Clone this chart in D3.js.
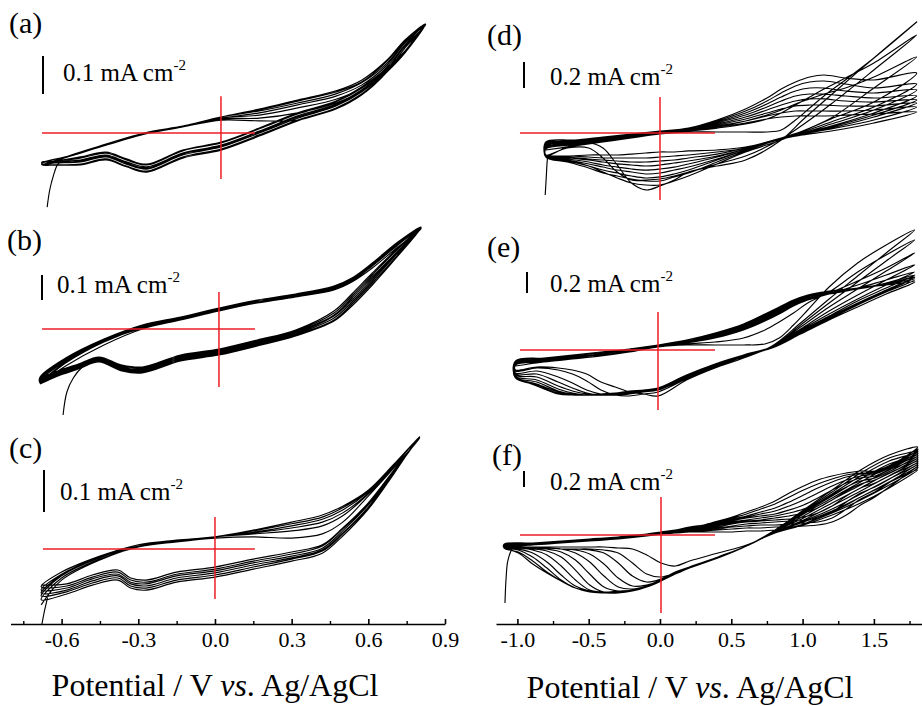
<!DOCTYPE html>
<html>
<head>
<meta charset="utf-8">
<script src="https://cdn.jsdelivr.net/npm/d3@7"></script>
<style>
  body { margin: 0; background: #fff; }
  svg { display: block; }
  text { font-family: "Liberation Serif", "Times New Roman", serif; fill: #000; }
</style>
</head>
<body>
<svg id="chart" width="922" height="706"></svg>
<script>
// ---------- Cyclic voltammograms: potential (V vs. Ag/AgCl), current density (mA cm^-2) ----------

const panelLabels = ["(a)", "(b)", "(c)", "(d)", "(e)", "(f)"];
const scaleBarValues = [0.1, 0.1, 0.1, 0.2, 0.2, 0.2];

const leftAxisTicks = [-0.6, -0.3, 0.0, 0.3, 0.6, 0.9];
const leftAxisMinor = [-0.75, -0.45, -0.15, 0.15, 0.45, 0.75];
const rightAxisTicks = [-1.0, -0.5, 0.0, 0.5, 1.0, 1.5];
const rightAxisMinor = [-0.75, -0.25, 0.25, 0.75, 1.25, 1.75];

// (a)
const aPotentialFwd = [-0.70, -0.60, -0.45, -0.30, -0.15, 0.00, 0.15, 0.30, 0.45, 0.55, 0.65, 0.72, 0.80];
const aCurrentFwd = [
  [-0.084,-0.063,-0.032,-0.003,0.016,0.034,0.032,0.034,0.066,0.100,0.161,0.224,0.284],
  [-0.082,-0.063,-0.032,-0.003,0.016,0.037,0.039,0.053,0.079,0.111,0.168,0.229,0.284],
  [-0.082,-0.061,-0.032,-0.003,0.016,0.039,0.047,0.066,0.089,0.118,0.174,0.232,0.287],
  [-0.079,-0.061,-0.029,0.000,0.018,0.039,0.053,0.074,0.097,0.126,0.179,0.237,0.287],
  [-0.079,-0.061,-0.029,0.000,0.018,0.042,0.058,0.079,0.103,0.132,0.184,0.239,0.287],
  [-0.079,-0.061,-0.029,0.000,0.018,0.042,0.061,0.084,0.108,0.134,0.189,0.242,0.287],
  [-0.079,-0.061,-0.029,0.000,0.018,0.042,0.063,0.087,0.111,0.139,0.192,0.245,0.287]
];
const aPotentialRev = [0.80, 0.72, 0.65, 0.55, 0.45, 0.30, 0.15, 0.00, -0.15, -0.29, -0.37, -0.45, -0.55, -0.65, -0.70];
const aCurrentRev = [
  [0.287,0.216,0.171,0.121,0.084,0.053,0.013,-0.024,-0.045,-0.082,-0.068,-0.050,-0.063,-0.074,-0.076],
  [0.287,0.216,0.171,0.118,0.082,0.050,0.011,-0.026,-0.047,-0.084,-0.071,-0.053,-0.066,-0.074,-0.079],
  [0.287,0.213,0.168,0.113,0.076,0.045,0.005,-0.032,-0.053,-0.089,-0.076,-0.058,-0.071,-0.076,-0.082],
  [0.287,0.213,0.166,0.111,0.074,0.042,0.003,-0.034,-0.055,-0.092,-0.079,-0.061,-0.074,-0.079,-0.082],
  [0.287,0.213,0.163,0.108,0.071,0.039,0.000,-0.037,-0.058,-0.095,-0.082,-0.063,-0.076,-0.079,-0.082],
  [0.287,0.211,0.161,0.103,0.066,0.034,-0.005,-0.042,-0.063,-0.100,-0.087,-0.068,-0.082,-0.084,-0.084],
  [0.287,0.211,0.161,0.100,0.063,0.032,-0.008,-0.045,-0.066,-0.103,-0.089,-0.071,-0.084,-0.084,-0.084]
];
const aStartPotential = [-0.68, -0.67, -0.655, -0.64, -0.62];
const aStartCurrent = [-0.195, -0.150, -0.111, -0.084, -0.071];
const aGuidePotential = [-0.700, 0.133];
const aGuideCurrent = [-0.121, 0.097];

// (b)
const bPotentialFwd = [-0.70, -0.60, -0.45, -0.30, -0.15, 0.00, 0.15, 0.30, 0.45, 0.52, 0.60, 0.70, 0.79];
const bCurrentFwd = [
  [-0.220,-0.148,-0.064,0.000,0.036,0.072,0.104,0.128,0.156,0.188,0.244,0.328,0.400],
  [-0.212,-0.136,-0.052,0.004,0.036,0.072,0.104,0.128,0.160,0.192,0.252,0.336,0.404],
  [-0.208,-0.132,-0.048,0.008,0.040,0.076,0.108,0.132,0.164,0.196,0.256,0.340,0.404],
  [-0.204,-0.128,-0.048,0.008,0.040,0.076,0.108,0.132,0.164,0.196,0.260,0.344,0.404],
  [-0.200,-0.124,-0.044,0.012,0.044,0.080,0.112,0.136,0.168,0.200,0.260,0.344,0.408],
  [-0.196,-0.120,-0.044,0.012,0.044,0.080,0.112,0.136,0.168,0.200,0.264,0.348,0.408],
  [-0.192,-0.116,-0.040,0.016,0.048,0.084,0.116,0.140,0.172,0.204,0.264,0.348,0.408]
];
const bPotentialRev = [0.79, 0.70, 0.60, 0.52, 0.45, 0.30, 0.15, 0.00, -0.15, -0.30, -0.38, -0.47, -0.55, -0.62, -0.70];
const bCurrentRev = [
  [0.404,0.324,0.224,0.140,0.072,-0.004,-0.044,-0.080,-0.104,-0.152,-0.144,-0.112,-0.140,-0.164,-0.200],
  [0.404,0.320,0.216,0.132,0.064,-0.008,-0.048,-0.084,-0.108,-0.156,-0.148,-0.116,-0.144,-0.168,-0.204],
  [0.404,0.312,0.208,0.124,0.056,-0.012,-0.052,-0.088,-0.112,-0.160,-0.152,-0.116,-0.144,-0.168,-0.204],
  [0.404,0.308,0.200,0.116,0.052,-0.016,-0.056,-0.092,-0.116,-0.164,-0.156,-0.120,-0.148,-0.172,-0.208],
  [0.404,0.304,0.192,0.108,0.044,-0.020,-0.060,-0.096,-0.120,-0.168,-0.160,-0.124,-0.152,-0.176,-0.212],
  [0.404,0.296,0.184,0.100,0.036,-0.024,-0.064,-0.100,-0.124,-0.172,-0.164,-0.128,-0.156,-0.180,-0.216],
  [0.404,0.292,0.176,0.092,0.032,-0.028,-0.068,-0.104,-0.128,-0.176,-0.168,-0.132,-0.160,-0.184,-0.220]
];
const bStartPotential = [-0.61, -0.595, -0.57, -0.535, -0.50, -0.47];
const bStartCurrent = [-0.344, -0.252, -0.196, -0.152, -0.128, -0.120];
const bGuidePotential = [-0.692, 0.141];
const bGuideCurrent = [-0.232, 0.148];

// (c)
const cPotentialFwd = [-0.68, -0.60, -0.45, -0.30, -0.15, 0.00, 0.15, 0.30, 0.42, 0.50, 0.60, 0.70, 0.80];
const cCurrentFwd = [
  [-0.133,-0.074,-0.026,0.005,0.017,0.026,0.029,0.026,0.036,0.064,0.126,0.193,0.264],
  [-0.121,-0.069,-0.024,0.005,0.019,0.029,0.036,0.043,0.055,0.079,0.131,0.195,0.264],
  [-0.112,-0.064,-0.021,0.007,0.019,0.029,0.038,0.050,0.064,0.086,0.133,0.198,0.267],
  [-0.105,-0.062,-0.019,0.007,0.019,0.029,0.040,0.055,0.071,0.093,0.136,0.200,0.267],
  [-0.098,-0.060,-0.019,0.007,0.019,0.029,0.043,0.060,0.076,0.098,0.138,0.200,0.267],
  [-0.090,-0.055,-0.017,0.010,0.021,0.029,0.045,0.064,0.081,0.102,0.140,0.202,0.267]
];
const cPotentialRev = [0.80, 0.70, 0.60, 0.50, 0.42, 0.30, 0.15, 0.00, -0.15, -0.27, -0.33, -0.38, -0.48, -0.58, -0.68];
const cCurrentRev = [
  [0.267,0.179,0.095,0.031,-0.010,-0.029,-0.048,-0.067,-0.079,-0.098,-0.093,-0.074,-0.086,-0.107,-0.121],
  [0.267,0.181,0.098,0.036,-0.005,-0.024,-0.043,-0.062,-0.074,-0.093,-0.088,-0.069,-0.081,-0.102,-0.112],
  [0.267,0.183,0.100,0.038,-0.002,-0.021,-0.038,-0.057,-0.069,-0.088,-0.083,-0.064,-0.076,-0.098,-0.105],
  [0.267,0.183,0.105,0.043,0.002,-0.017,-0.033,-0.052,-0.064,-0.083,-0.079,-0.060,-0.071,-0.093,-0.098],
  [0.267,0.186,0.107,0.048,0.007,-0.012,-0.029,-0.048,-0.060,-0.079,-0.074,-0.055,-0.067,-0.088,-0.090],
  [0.267,0.188,0.110,0.050,0.010,-0.007,-0.024,-0.043,-0.055,-0.074,-0.069,-0.050,-0.062,-0.083,-0.086]
];
const cStartPotential = [-0.677, -0.668, -0.66, -0.655];
const cStartCurrent = [-0.179, -0.150, -0.129, -0.115];
const cGuidePotential = [-0.673, 0.156];
const cGuideCurrent = [-0.119, 0.076];

// (d)
const dPotentialFwd = [-0.8, -0.6, -0.4, -0.2, 0.0, 0.2, 0.4, 0.6, 0.75, 0.85, 0.95, 1.05, 1.15, 1.3, 1.5, 1.8];
const dCurrentFwd = [
  [-0.131,-0.100,-0.069,-0.038,-0.008,0.008,0.008,0.008,0.008,0.023,0.100,0.192,0.285,0.408,0.577,0.854],
  [-0.123,-0.092,-0.062,-0.031,-0.008,0.015,0.038,0.069,0.108,0.154,0.215,0.277,0.338,0.423,0.538,0.754],
  [-0.115,-0.085,-0.062,-0.031,0.000,0.015,0.046,0.092,0.138,0.177,0.223,0.262,0.300,0.346,0.431,0.585],
  [-0.108,-0.085,-0.054,-0.023,0.000,0.015,0.046,0.077,0.108,0.123,0.131,0.131,0.131,0.138,0.146,0.162],
  [-0.100,-0.077,-0.054,-0.023,0.000,0.023,0.054,0.092,0.131,0.154,0.169,0.169,0.169,0.169,0.177,0.200],
  [-0.100,-0.077,-0.046,-0.023,0.000,0.023,0.062,0.108,0.154,0.185,0.208,0.215,0.215,0.208,0.208,0.231],
  [-0.092,-0.069,-0.046,-0.023,0.000,0.023,0.069,0.123,0.177,0.215,0.246,0.262,0.262,0.246,0.238,0.254],
  [-0.085,-0.069,-0.046,-0.015,0.008,0.023,0.077,0.138,0.200,0.246,0.285,0.300,0.300,0.285,0.269,0.285],
  [-0.085,-0.062,-0.038,-0.015,0.008,0.031,0.085,0.154,0.223,0.277,0.323,0.346,0.346,0.323,0.308,0.331],
  [-0.077,-0.062,-0.038,-0.015,0.008,0.031,0.092,0.169,0.246,0.308,0.362,0.392,0.400,0.377,0.346,0.377],
  [-0.069,-0.054,-0.031,-0.008,0.015,0.038,0.100,0.185,0.269,0.338,0.392,0.431,0.446,0.423,0.408,0.462]
];
const dPotentialRev = [1.8, 1.5, 1.2, 1.0, 0.85, 0.6, 0.4, 0.2, 0.1, 0.0, -0.1, -0.2, -0.3, -0.4, -0.5, -0.65, -0.8];
const dCurrentRev = [
  [0.854,0.577,0.292,0.100,-0.054,-0.208,-0.254,-0.300,-0.362,-0.408,-0.438,-0.385,-0.246,-0.115,-0.077,-0.108,-0.177],
  [0.754,0.485,0.223,0.062,-0.046,-0.177,-0.238,-0.300,-0.331,-0.354,-0.362,-0.362,-0.300,-0.192,-0.115,-0.115,-0.169],
  [0.585,0.346,0.115,0.015,-0.054,-0.146,-0.238,-0.331,-0.369,-0.400,-0.400,-0.385,-0.346,-0.300,-0.254,-0.208,-0.185],
  [0.162,0.077,0.015,-0.015,-0.046,-0.138,-0.223,-0.308,-0.338,-0.369,-0.369,-0.354,-0.331,-0.308,-0.269,-0.223,-0.185],
  [0.200,0.100,0.031,-0.008,-0.046,-0.131,-0.208,-0.285,-0.315,-0.338,-0.346,-0.331,-0.308,-0.285,-0.254,-0.215,-0.185],
  [0.231,0.123,0.038,-0.008,-0.046,-0.131,-0.200,-0.262,-0.285,-0.308,-0.315,-0.300,-0.285,-0.262,-0.238,-0.208,-0.185],
  [0.254,0.138,0.046,-0.008,-0.046,-0.123,-0.185,-0.238,-0.262,-0.277,-0.285,-0.277,-0.262,-0.246,-0.223,-0.200,-0.185],
  [0.285,0.154,0.054,0.000,-0.038,-0.123,-0.177,-0.215,-0.231,-0.246,-0.254,-0.246,-0.238,-0.223,-0.208,-0.192,-0.185],
  [0.331,0.177,0.069,0.000,-0.038,-0.115,-0.162,-0.192,-0.208,-0.215,-0.223,-0.223,-0.215,-0.208,-0.200,-0.185,-0.177],
  [0.377,0.200,0.085,0.008,-0.038,-0.115,-0.146,-0.169,-0.177,-0.185,-0.192,-0.192,-0.192,-0.192,-0.185,-0.177,-0.177],
  [0.462,0.238,0.108,0.015,-0.038,-0.108,-0.131,-0.138,-0.146,-0.146,-0.154,-0.162,-0.169,-0.169,-0.169,-0.177,-0.177]
];
const dStartPotential = [-0.805, -0.798, -0.792, -0.787];
const dStartCurrent = [-0.477, -0.350, -0.230, -0.170];
const dGuidePotential = [-0.982, 0.386];
const dGuideCurrent = [-0.515, 0.277];

// (e)
const ePotentialFwd = [-1.0, -0.8, -0.6, -0.4, -0.2, 0.0, 0.2, 0.4, 0.6, 0.75, 0.85, 0.95, 1.05, 1.2, 1.4, 1.6, 1.8];
const eCurrentFwd = [
  [-0.152,-0.114,-0.086,-0.057,-0.019,0.029,0.048,0.048,0.048,0.057,0.114,0.238,0.381,0.600,0.829,1.000,1.143],
  [-0.143,-0.114,-0.086,-0.057,-0.019,0.029,0.057,0.076,0.114,0.190,0.267,0.352,0.448,0.552,0.743,0.905,1.048],
  [-0.143,-0.105,-0.076,-0.048,-0.010,0.029,0.067,0.114,0.190,0.276,0.343,0.419,0.476,0.543,0.657,0.781,0.924],
  [-0.133,-0.105,-0.076,-0.048,-0.010,0.029,0.067,0.124,0.200,0.286,0.352,0.429,0.476,0.533,0.619,0.714,0.810],
  [-0.133,-0.095,-0.067,-0.038,0.000,0.038,0.076,0.133,0.210,0.295,0.362,0.438,0.486,0.533,0.590,0.667,0.743],
  [-0.124,-0.095,-0.067,-0.038,0.000,0.038,0.076,0.133,0.219,0.305,0.371,0.448,0.495,0.533,0.581,0.638,0.714],
  [-0.124,-0.095,-0.067,-0.038,0.000,0.038,0.076,0.143,0.229,0.314,0.381,0.457,0.505,0.543,0.581,0.629,0.695],
  [-0.114,-0.086,-0.057,-0.029,0.010,0.038,0.086,0.143,0.229,0.324,0.390,0.457,0.505,0.543,0.581,0.629,0.686],
  [-0.114,-0.086,-0.057,-0.029,0.010,0.048,0.086,0.152,0.238,0.333,0.400,0.467,0.514,0.552,0.590,0.629,0.667],
  [-0.105,-0.076,-0.048,-0.019,0.010,0.048,0.095,0.162,0.248,0.343,0.410,0.476,0.524,0.562,0.590,0.619,0.648]
];
const ePotentialRev = [1.8, 1.6, 1.4, 1.2, 1.0, 0.8, 0.6, 0.4, 0.2, 0.0, -0.1, -0.2, -0.3, -0.4, -0.5, -0.6, -0.7, -0.85, -1.0];
const eCurrentRev = [
  [1.143,0.924,0.705,0.486,0.257,0.038,-0.076,-0.171,-0.286,-0.438,-0.419,-0.400,-0.352,-0.305,-0.229,-0.190,-0.171,-0.162,-0.190],
  [1.048,0.848,0.648,0.448,0.238,0.029,-0.067,-0.162,-0.276,-0.400,-0.419,-0.438,-0.429,-0.381,-0.295,-0.229,-0.190,-0.171,-0.200],
  [0.924,0.752,0.581,0.410,0.219,0.029,-0.067,-0.152,-0.267,-0.381,-0.400,-0.419,-0.429,-0.419,-0.381,-0.314,-0.257,-0.200,-0.219],
  [0.810,0.667,0.524,0.371,0.200,0.029,-0.067,-0.152,-0.267,-0.381,-0.400,-0.419,-0.429,-0.429,-0.410,-0.362,-0.305,-0.229,-0.229],
  [0.743,0.619,0.486,0.343,0.190,0.029,-0.057,-0.152,-0.267,-0.371,-0.390,-0.410,-0.429,-0.429,-0.419,-0.390,-0.343,-0.257,-0.238],
  [0.714,0.590,0.467,0.324,0.181,0.029,-0.057,-0.143,-0.257,-0.371,-0.390,-0.410,-0.419,-0.429,-0.429,-0.410,-0.371,-0.286,-0.248],
  [0.695,0.571,0.448,0.314,0.171,0.029,-0.057,-0.143,-0.257,-0.362,-0.381,-0.400,-0.419,-0.429,-0.429,-0.419,-0.390,-0.305,-0.257],
  [0.686,0.562,0.438,0.305,0.171,0.029,-0.057,-0.143,-0.248,-0.362,-0.381,-0.400,-0.419,-0.429,-0.429,-0.429,-0.400,-0.324,-0.257],
  [0.667,0.552,0.429,0.295,0.162,0.029,-0.048,-0.133,-0.248,-0.362,-0.381,-0.400,-0.410,-0.419,-0.429,-0.429,-0.410,-0.333,-0.267],
  [0.648,0.533,0.410,0.286,0.152,0.019,-0.048,-0.133,-0.238,-0.362,-0.381,-0.390,-0.410,-0.419,-0.429,-0.429,-0.419,-0.343,-0.267]
];
const eGuidePotential = [-0.968, 0.400];
const eGuideCurrent = [-0.571, 0.362];

// (f)
const fPotentialFwd = [-1.1, -0.9, -0.7, -0.5, -0.3, -0.1, 0.0, 0.1, 0.2, 0.3, 0.4, 0.5, 0.6, 0.7, 0.8, 0.9, 1.0, 1.1, 1.2, 1.3, 1.4, 1.5, 1.65, 1.8];
const fCurrentFwd = [
  [-0.150,-0.125,-0.100,-0.075,-0.050,-0.013,0.013,0.025,0.038,0.038,0.038,0.038,0.050,0.050,0.063,0.088,0.138,0.213,0.288,0.375,0.475,0.563,0.700,0.813],
  [-0.150,-0.125,-0.100,-0.075,-0.050,-0.013,0.013,0.025,0.038,0.050,0.063,0.075,0.088,0.088,0.100,0.100,0.113,0.125,0.163,0.250,0.375,0.475,0.663,0.850],
  [-0.150,-0.125,-0.100,-0.075,-0.050,-0.013,0.013,0.025,0.050,0.063,0.075,0.100,0.113,0.125,0.125,0.138,0.150,0.163,0.213,0.325,0.450,0.538,0.713,0.875],
  [-0.138,-0.125,-0.100,-0.075,-0.050,-0.013,0.013,0.038,0.050,0.063,0.088,0.113,0.138,0.150,0.163,0.175,0.188,0.213,0.288,0.413,0.525,0.600,0.750,0.900],
  [-0.138,-0.113,-0.088,-0.063,-0.038,0.000,0.013,0.038,0.050,0.075,0.100,0.138,0.163,0.175,0.188,0.200,0.225,0.275,0.363,0.488,0.588,0.650,0.788,0.925],
  [-0.138,-0.113,-0.088,-0.063,-0.038,0.000,0.025,0.038,0.063,0.075,0.113,0.150,0.175,0.188,0.213,0.238,0.275,0.338,0.438,0.550,0.638,0.688,0.813,0.950],
  [-0.138,-0.113,-0.088,-0.063,-0.038,0.000,0.025,0.038,0.063,0.088,0.125,0.163,0.188,0.213,0.238,0.275,0.325,0.400,0.500,0.600,0.675,0.713,0.838,0.975],
  [-0.125,-0.113,-0.088,-0.063,-0.038,0.000,0.025,0.050,0.063,0.088,0.125,0.175,0.213,0.238,0.263,0.313,0.375,0.463,0.563,0.650,0.713,0.738,0.863,1.000],
  [-0.125,-0.100,-0.075,-0.050,-0.025,0.000,0.025,0.050,0.075,0.100,0.138,0.188,0.225,0.263,0.300,0.363,0.438,0.525,0.613,0.688,0.738,0.763,0.875,1.025],
  [-0.125,-0.100,-0.075,-0.050,-0.025,0.013,0.025,0.050,0.075,0.100,0.150,0.200,0.238,0.288,0.338,0.413,0.500,0.588,0.663,0.725,0.763,0.775,0.888,1.050],
  [-0.125,-0.100,-0.075,-0.050,-0.025,0.013,0.038,0.063,0.088,0.113,0.163,0.213,0.263,0.325,0.388,0.475,0.563,0.638,0.700,0.750,0.775,0.788,0.900,1.075],
  [-0.113,-0.100,-0.075,-0.050,-0.025,0.013,0.038,0.063,0.100,0.125,0.175,0.225,0.288,0.350,0.425,0.525,0.613,0.688,0.738,0.775,0.800,0.800,0.913,1.100]
];
const fPotentialRev = [1.8, 1.6, 1.4, 1.2, 1.0, 0.8, 0.6, 0.4, 0.2, 0.1, 0.0, -0.1, -0.2, -0.3, -0.4, -0.5, -0.6, -0.7, -0.8, -0.9, -1.0, -1.1];
const fCurrentRev = [
  [0.813,0.588,0.400,0.250,0.125,0.025,-0.125,-0.225,-0.325,-0.388,-0.350,-0.250,-0.175,-0.163,-0.150,-0.150,-0.150,-0.150,-0.150,-0.150,-0.150,-0.150],
  [0.838,0.625,0.438,0.275,0.138,0.038,-0.138,-0.275,-0.400,-0.475,-0.525,-0.488,-0.350,-0.225,-0.188,-0.175,-0.175,-0.175,-0.163,-0.163,-0.163,-0.163],
  [0.863,0.663,0.475,0.300,0.163,0.038,-0.138,-0.275,-0.400,-0.463,-0.550,-0.588,-0.513,-0.350,-0.225,-0.188,-0.175,-0.175,-0.163,-0.163,-0.163,-0.163],
  [0.888,0.700,0.513,0.325,0.175,0.038,-0.138,-0.275,-0.400,-0.463,-0.563,-0.625,-0.638,-0.538,-0.363,-0.238,-0.188,-0.175,-0.163,-0.163,-0.163,-0.163],
  [0.913,0.738,0.550,0.363,0.188,0.038,-0.138,-0.275,-0.400,-0.463,-0.563,-0.638,-0.675,-0.650,-0.513,-0.338,-0.225,-0.175,-0.163,-0.163,-0.163,-0.150],
  [0.938,0.775,0.588,0.400,0.213,0.050,-0.138,-0.275,-0.400,-0.475,-0.563,-0.650,-0.688,-0.700,-0.650,-0.488,-0.313,-0.213,-0.175,-0.163,-0.163,-0.150],
  [0.963,0.813,0.625,0.438,0.238,0.050,-0.138,-0.275,-0.400,-0.475,-0.563,-0.650,-0.688,-0.700,-0.713,-0.625,-0.438,-0.275,-0.200,-0.175,-0.163,-0.150],
  [0.988,0.850,0.663,0.463,0.263,0.050,-0.138,-0.275,-0.413,-0.475,-0.563,-0.650,-0.688,-0.700,-0.713,-0.688,-0.563,-0.388,-0.250,-0.188,-0.163,-0.150],
  [1.013,0.888,0.700,0.488,0.275,0.050,-0.138,-0.275,-0.413,-0.475,-0.563,-0.650,-0.688,-0.713,-0.713,-0.700,-0.638,-0.500,-0.338,-0.225,-0.175,-0.150],
  [1.038,0.925,0.738,0.513,0.288,0.050,-0.138,-0.275,-0.413,-0.488,-0.563,-0.650,-0.700,-0.713,-0.713,-0.700,-0.663,-0.563,-0.413,-0.275,-0.188,-0.150],
  [1.063,0.963,0.775,0.538,0.300,0.050,-0.138,-0.288,-0.413,-0.488,-0.563,-0.650,-0.700,-0.713,-0.713,-0.700,-0.663,-0.575,-0.463,-0.325,-0.213,-0.163],
  [1.100,1.000,0.813,0.563,0.313,0.063,-0.138,-0.288,-0.413,-0.488,-0.575,-0.650,-0.700,-0.725,-0.725,-0.713,-0.663,-0.575,-0.475,-0.363,-0.225,-0.163]
];
const fStartPotential = [-1.094, -1.087, -1.073, -1.038, -0.989];
const fStartCurrent = [-0.850, -0.563, -0.313, -0.163, -0.138];
const fGuidePotential = [-0.989, 0.379];
const fGuideCurrent = [-0.975, 0.475];

// ---------- assembly ----------
const series = [
  { Efwd: aPotentialFwd, Erev: aPotentialRev, fwd: aCurrentFwd, rev: aCurrentRev, startE: aStartPotential, startJ: aStartCurrent, guideE: aGuidePotential, guideJ: aGuideCurrent },
  { Efwd: bPotentialFwd, Erev: bPotentialRev, fwd: bCurrentFwd, rev: bCurrentRev, startE: bStartPotential, startJ: bStartCurrent, guideE: bGuidePotential, guideJ: bGuideCurrent },
  { Efwd: cPotentialFwd, Erev: cPotentialRev, fwd: cCurrentFwd, rev: cCurrentRev, startE: cStartPotential, startJ: cStartCurrent, guideE: cGuidePotential, guideJ: cGuideCurrent },
  { Efwd: dPotentialFwd, Erev: dPotentialRev, fwd: dCurrentFwd, rev: dCurrentRev, startE: dStartPotential, startJ: dStartCurrent, guideE: dGuidePotential, guideJ: dGuideCurrent },
  { Efwd: ePotentialFwd, Erev: ePotentialRev, fwd: eCurrentFwd, rev: eCurrentRev, startE: null, startJ: null, guideE: eGuidePotential, guideJ: eGuideCurrent },
  { Efwd: fPotentialFwd, Erev: fPotentialRev, fwd: fCurrentFwd, rev: fCurrentRev, startE: fStartPotential, startJ: fStartCurrent, guideE: fGuidePotential, guideJ: fGuideCurrent }
];

// panel placement: zero-current level, pixels per mA cm^-2, small horizontal offsets
const layout = [
  { side: "left",  dx: 6,  y0: 133, k: 380, barX: 43,  barBottom: 94,  labelX: 9,   labelY: 33,  noteX: 63,  noteY: 81 },
  { side: "left",  dx: 4,  y0: 329, k: 250, barX: 42,  barBottom: 300, labelX: 7,   labelY: 250, noteX: 57,  noteY: 293 },
  { side: "left",  dx: 0,  y0: 549, k: 420, barX: 44,  barBottom: 512, labelX: 9,   labelY: 458, noteX: 60,  noteY: 500 },
  { side: "right", dx: 0,  y0: 133, k: 130, barX: 524, barBottom: 88,  labelX: 487, labelY: 45,  noteX: 550, noteY: 85 },
  { side: "right", dx: -2, y0: 350, k: 105, barX: 527, barBottom: 293, labelX: 487, labelY: 257, noteX: 550, noteY: 292 },
  { side: "right", dx: 1,  y0: 535, k: 80,  barX: 524, barBottom: 487, labelX: 492, labelY: 465, noteX: 550, noteY: 490 }
];

const svg = d3.select("#chart");
const axisY = 624;
const leftX = d3.scaleLinear().domain([-0.8, 0.9]).range([10.5, 445]);
const rightX = d3.scaleLinear().domain([-1.15, 1.85]).range([496, 923.8]);
const fmt = d => d.toFixed(1);

series.forEach((s, i) => {
  const L = layout[i];
  const base = L.side === "left" ? leftX : rightX;
  const x = base.copy().range(base.range().map(v => v + L.dx));
  const y = d3.scaleLinear().domain([0, 1]).range([L.y0, L.y0 - L.k]);
  const g = svg.append("g");
  const line = d3.line().x(d => x(d[0])).y(d => y(d[1])).curve(d3.curveCatmullRom.alpha(0.5));

  // all cycles as one continuous trace
  const pts = [];
  const push = p => {
    const q = pts[pts.length - 1];
    if (!q || q[0] !== p[0] || q[1] !== p[1]) pts.push(p);
  };
  s.fwd.forEach((f, c) => {
    s.Efwd.forEach((e, j) => push([e, f[j]]));
    s.Erev.forEach((e, j) => push([e, s.rev[c][j]]));
  });
  g.append("path").attr("d", line(pts))
    .attr("fill", "none").attr("stroke", "#000").attr("stroke-width", 1.15)
    .attr("stroke-linejoin", "round");

  if (s.startE) {
    g.append("path").attr("d", line(s.startE.map((e, j) => [e, s.startJ[j]])))
      .attr("fill", "none").attr("stroke", "#000").attr("stroke-width", 1.15);
  }

  // zero-current / zero-potential guide cross
  g.append("line")
    .attr("x1", x(s.guideE[0])).attr("x2", x(s.guideE[1]))
    .attr("y1", y(0)).attr("y2", y(0))
    .attr("stroke", "#ee1c24").attr("stroke-width", 1.5);
  g.append("line")
    .attr("x1", x(0)).attr("x2", x(0))
    .attr("y1", y(s.guideJ[0])).attr("y2", y(s.guideJ[1]))
    .attr("stroke", "#ee1c24").attr("stroke-width", 1.5);

  // current scale bar
  const barLen = y(0) - y(scaleBarValues[i]);
  g.append("line")
    .attr("x1", L.barX).attr("x2", L.barX)
    .attr("y1", L.barBottom).attr("y2", L.barBottom - barLen)
    .attr("stroke", "#000").attr("stroke-width", 2);
  const note = g.append("text").attr("x", L.noteX).attr("y", L.noteY).attr("font-size", 25);
  note.append("tspan").text(`${scaleBarValues[i]} mA cm`);
  note.append("tspan").attr("dy", -11).attr("font-size", 15).text("-2");

  g.append("text").attr("x", L.labelX).attr("y", L.labelY).attr("font-size", 30).text(panelLabels[i]);
});

// potential axes
function drawAxis(scale, ticks, minor) {
  const gMaj = svg.append("g").attr("transform", `translate(0,${axisY})`)
    .call(d3.axisBottom(scale).tickValues(ticks).tickSizeInner(-5).tickSizeOuter(0).tickPadding(7).tickFormat(fmt));
  gMaj.select(".domain").attr("stroke-width", 1.6);
  gMaj.selectAll(".tick line").attr("stroke-width", 1.6);
  gMaj.selectAll("text").attr("font-size", 22);
  gMaj.attr("font-size", 22);
  const gMin = svg.append("g").attr("transform", `translate(0,${axisY})`)
    .call(d3.axisBottom(scale).tickValues(minor).tickSizeInner(-3).tickSizeOuter(0).tickFormat(""));
  gMin.select(".domain").remove();
  gMin.selectAll(".tick line").attr("stroke-width", 1.4);
}
drawAxis(leftX, leftAxisTicks, leftAxisMinor);
drawAxis(rightX, rightAxisTicks, rightAxisMinor);

function drawTitle(cx, by) {
  const t = svg.append("text").attr("x", cx).attr("y", by).attr("text-anchor", "middle").attr("font-size", 32);
  t.append("tspan").text("Potential / V ");
  t.append("tspan").attr("font-style", "italic").text("vs");
  t.append("tspan").text(". Ag/AgCl");
}
drawTitle(215, 696);
drawTitle(690, 698);
</script>
</body>
</html>
